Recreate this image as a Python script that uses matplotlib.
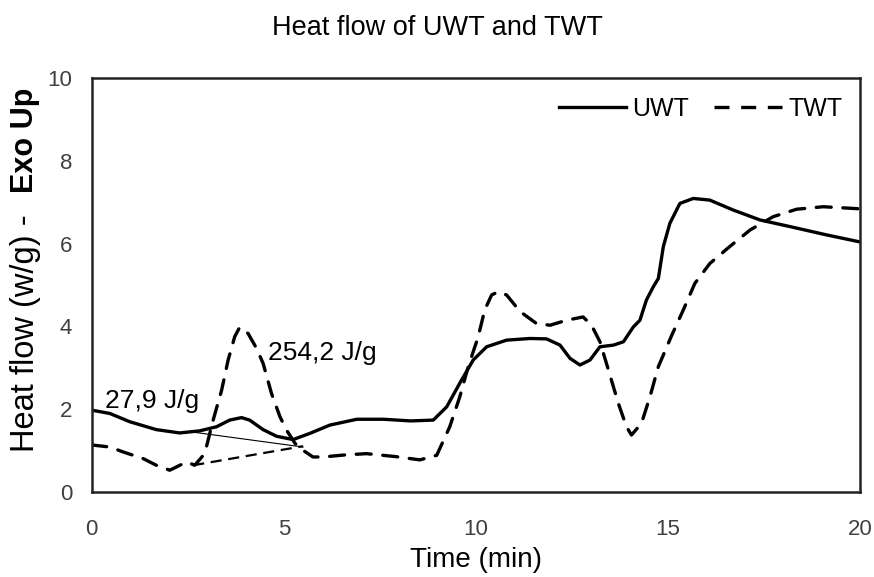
import matplotlib.pyplot as plt
from matplotlib.lines import Line2D

plt.rcParams["font.family"] = ["Liberation Sans", "DejaVu Sans"]

# UWT (solid)
uwt_t = [0.0, 0.47, 0.99, 1.68, 2.29, 2.81, 3.25, 3.59, 3.9, 4.11, 4.46, 4.81, 5.24, 5.68,
         6.2, 6.9, 7.6, 8.3, 8.89, 9.24, 9.58, 9.93, 10.28, 10.8, 11.41, 11.84, 12.19,
         12.45, 12.71, 12.97, 13.23, 13.58, 13.84, 14.1, 14.27, 14.44, 14.62, 14.75,
         14.88, 15.05, 15.31, 15.66, 16.09, 16.7, 17.4, 18.18, 19.13, 20.0]
uwt_y = [1.98, 1.9, 1.7, 1.51, 1.43, 1.48, 1.58, 1.74, 1.8, 1.74, 1.51, 1.35, 1.27, 1.42,
         1.62, 1.76, 1.76, 1.72, 1.74, 2.06, 2.63, 3.19, 3.51, 3.67, 3.71, 3.7, 3.55,
         3.23, 3.07, 3.19, 3.51, 3.55, 3.63, 3.99, 4.15, 4.64, 4.96, 5.16, 5.93, 6.49,
         6.97, 7.09, 7.05, 6.81, 6.57, 6.41, 6.21, 6.04]

# TWT (dashed)
twt_t = [0.0, 0.47, 0.82, 1.34, 1.68, 2.03, 2.47, 2.68, 2.94, 3.16, 3.38, 3.55, 3.72, 3.85,
         4.07, 4.29, 4.46, 4.68, 4.9, 5.07, 5.29, 5.42, 5.76, 6.02, 6.6, 7.15, 7.9, 8.54,
         8.98, 9.32, 9.58, 9.8, 10.06, 10.23, 10.41, 10.58, 10.8, 11.15, 11.58, 11.93,
         12.36, 12.79, 13.01, 13.23, 13.45, 13.71, 13.92, 14.05, 14.31, 14.53, 14.75,
         15.1, 15.4, 15.7, 16.09, 16.61, 17.14, 17.74, 18.35, 19.04, 20.0]
twt_y = [1.14, 1.09, 0.97, 0.81, 0.65, 0.53, 0.73, 0.65, 0.93, 1.74, 2.46, 3.19, 3.75, 3.98,
         3.83, 3.47, 3.11, 2.38, 1.82, 1.5, 1.18, 1.06, 0.85, 0.85, 0.9, 0.93, 0.86, 0.78,
         0.89, 1.58, 2.3, 3.03, 3.75, 4.4, 4.76, 4.84, 4.76, 4.36, 4.07, 4.03, 4.15, 4.23,
         4.03, 3.63, 2.95, 2.14, 1.58, 1.38, 1.66, 2.3, 3.03, 3.79, 4.4, 5.04, 5.52, 5.93,
         6.33, 6.65, 6.83, 6.89, 6.84]

# integration baselines
base_uwt_t = [2.55, 5.5]
base_uwt_y = [1.46, 1.09]
base_twt_t = [2.64, 5.5]
base_twt_y = [0.65, 1.11]

DASH = (0, (4.5, 3.5))

fig = plt.figure(figsize=(8.74, 5.77), dpi=100)
ax = fig.add_axes([0.105, 0.147, 0.879, 0.718])

ax.plot(uwt_t, uwt_y, color="black", lw=2.4, solid_joinstyle="round")
ax.plot(twt_t, twt_y, color="black", lw=2.4, ls=DASH, dash_capstyle="round")
ax.plot(base_uwt_t, base_uwt_y, color="black", lw=0.8)
ax.plot(base_twt_t, base_twt_y, color="black", lw=1.6, ls=(0, (5, 3)))

ax.text(0.34, 2.03, "27,9 J/g", fontsize=19, ha="left", va="baseline")
ax.text(4.58, 3.19, "254,2 J/g", fontsize=19, ha="left", va="baseline")

ax.set_xlim(0, 20)
ax.set_ylim(0, 10)
ax.set_xticks([0, 5, 10, 15, 20])
ax.set_yticks([0, 2, 4, 6, 8, 10])
ax.tick_params(length=0, labelsize=16, colors="#404040")
ax.tick_params(axis="x", pad=19)
ax.tick_params(axis="y", pad=14)
for s in ax.spines.values():
    s.set_linewidth(1.8)
    s.set_color("#222222")

ax.set_xlabel("Time (min)", fontsize=20, labelpad=5)
fig.text(0.029, 1 - 452 / 577, "Heat flow (w/g) -", rotation=90, fontsize=23.5,
         ha="center", va="bottom")
fig.text(0.029, 1 - 88 / 577, "Exo Up", rotation=90, fontsize=22, fontweight="bold",
         ha="center", va="top")

fig.text(0.5, 1 - 28 / 577, "Heat flow of UWT and TWT", fontsize=19.5,
         ha="center", va="center")

handles = [Line2D([], [], color="black", lw=2.4),
           Line2D([], [], color="black", lw=2.4, ls=DASH)]
ax.legend(handles, ["UWT", "TWT"], loc="upper right", ncol=2, frameon=False,
          fontsize=18, handlelength=2.7, columnspacing=1.0, handletextpad=0.25,
          bbox_to_anchor=(1.006, 1.008))

fig.savefig("out.png", dpi=100)
